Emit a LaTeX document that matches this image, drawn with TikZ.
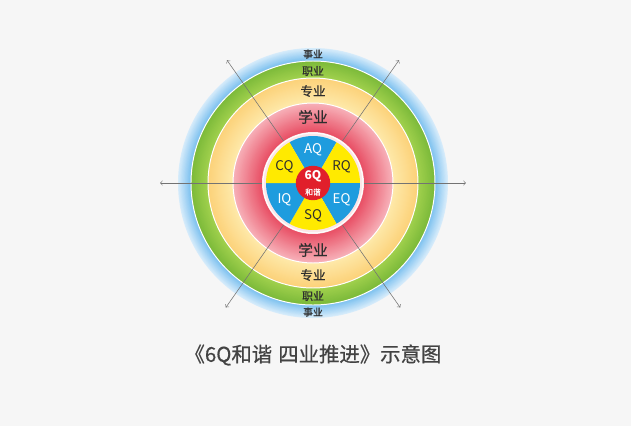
\documentclass[tikz,border=0pt]{standalone}
\usepackage{fontspec}
\setmainfont{Noto Sans CJK SC}
\newfontfamily\medfont[FakeBold=0.6]{Noto Sans CJK SC}

\definecolor{bgray}{HTML}{F6F6F6}
\definecolor{blueout}{HTML}{D8EDFB}
\definecolor{bluein}{HTML}{78BFEF}
\definecolor{greenout}{HTML}{7CBA3A}
\definecolor{greenin}{HTML}{A3D24E}
\definecolor{yellowout}{HTML}{FCD27A}
\definecolor{yellowin}{HTML}{FEEAAC}
\definecolor{pinkout}{HTML}{F7B0B8}
\definecolor{pinkin}{HTML}{E84C62}
\definecolor{ringwhite}{HTML}{FBE6E8}
\definecolor{qblue}{HTML}{1E9CDE}
\definecolor{qyellow}{HTML}{FFEA00}
\definecolor{qred}{HTML}{E11F2B}
\definecolor{inkgray}{HTML}{2E2E2E}

\tikzstyle{axis} = [draw, line width=0.4pt, <->, black!55]
\tikzstyle{sep} = [draw=white, line width=0.7pt]
\tikzstyle{ring label} = [text=inkgray, inner sep=0pt]
\tikzstyle{q label} = [font=\fontsize{9.5}{10}\selectfont, inner sep=0pt]
\tikzstyle{core} = [circle, fill=qred, minimum size=0.86cm, inner sep=0pt, text=white, align=center]
\tikzstyle{title} = [text=inkgray!90, font=\medfont\fontsize{14.5}{16}\selectfont, inner sep=0pt]

% ring from outer radius #1 to inner radius #2, colour #3 outside to #4 inside
\newcommand{\shadedring}[4]{%
  \foreach \i [evaluate=\i as \r using #1-(#1-#2)*\i/24,
               evaluate=\i as \p using int(\i*100/24)] in {0,...,24}
    \fill[#4!\p!#3] (0,0) circle (\r);}

\begin{document}
\begin{tikzpicture}[scale=0.025]
     \fill[bgray] (-313,-243) rectangle (318,183);
     \useasboundingbox (-313,-243) rectangle (318,183);

     % the four rings, outside first
     \shadedring{135}{122}{blueout}{bluein}
     \shadedring{122}{105}{greenout}{greenin}
     \shadedring{105}{80}{yellowout}{yellowin}
     \shadedring{80}{51}{pinkout}{pinkin}
     \foreach \r in {122,105,80}
       \draw[sep] (0,0) circle (\r);

     % arrows through the centre
     \coordinate (w) at (-153,0);
     \coordinate (e) at (153,0);
     \coordinate (nw) at (125:150);
     \coordinate (se) at (-55:152);
     \coordinate (ne) at (55:150);
     \coordinate (sw) at (-125:152);
     \path[axis] (w) -- (e);
     \path[axis] (nw) -- (se);
     \path[axis] (ne) -- (sw);

     % the six Q sectors
     \fill[ringwhite] (0,0) circle (51);
     \draw[sep] (0,0) circle (50);
     \foreach \a/\col/\name/\tcol in {90/qblue/AQ/white, 30/qyellow/RQ/inkgray,
       -30/qblue/EQ/white, -90/qyellow/SQ/inkgray, -150/qblue/IQ/white,
       150/qyellow/CQ/inkgray}
     {
       \fill[\col] (0,0) -- (\a-30:47) arc (\a-30:\a+30:47) -- cycle;
       \node[q label, text=\tcol] (\name) at (\a:33) {\name};
     }
     \node[core] (core) at (0,0)
       {{\fontsize{8.5}{8}\selectfont\bfseries 6Q}\\[-1pt]{\fontsize{5.5}{5}\selectfont\medfont 和谐}};

     % ring labels, top and bottom
     \foreach \y/\name/\size/\txt in {129/shiyeN/7/事业, 112/zhiyeN/7.8/职业,
       92/zhuanyeN/9/专业, 66/xueyeN/10.5/学业, -129/shiyeS/7/事业,
       -113/zhiyeS/7.8/职业, -92/zhuanyeS/9/专业, -67/xueyeS/10.5/学业}
     \node[ring label, font=\medfont\fontsize{\size}{\size}\selectfont] (\name) at (0,\y) {\txt};

     \node[title] (caption) at (0,-172) {《6Q和谐\hspace{0.3em}四业推进》示意图};
\end{tikzpicture}
\end{document}
